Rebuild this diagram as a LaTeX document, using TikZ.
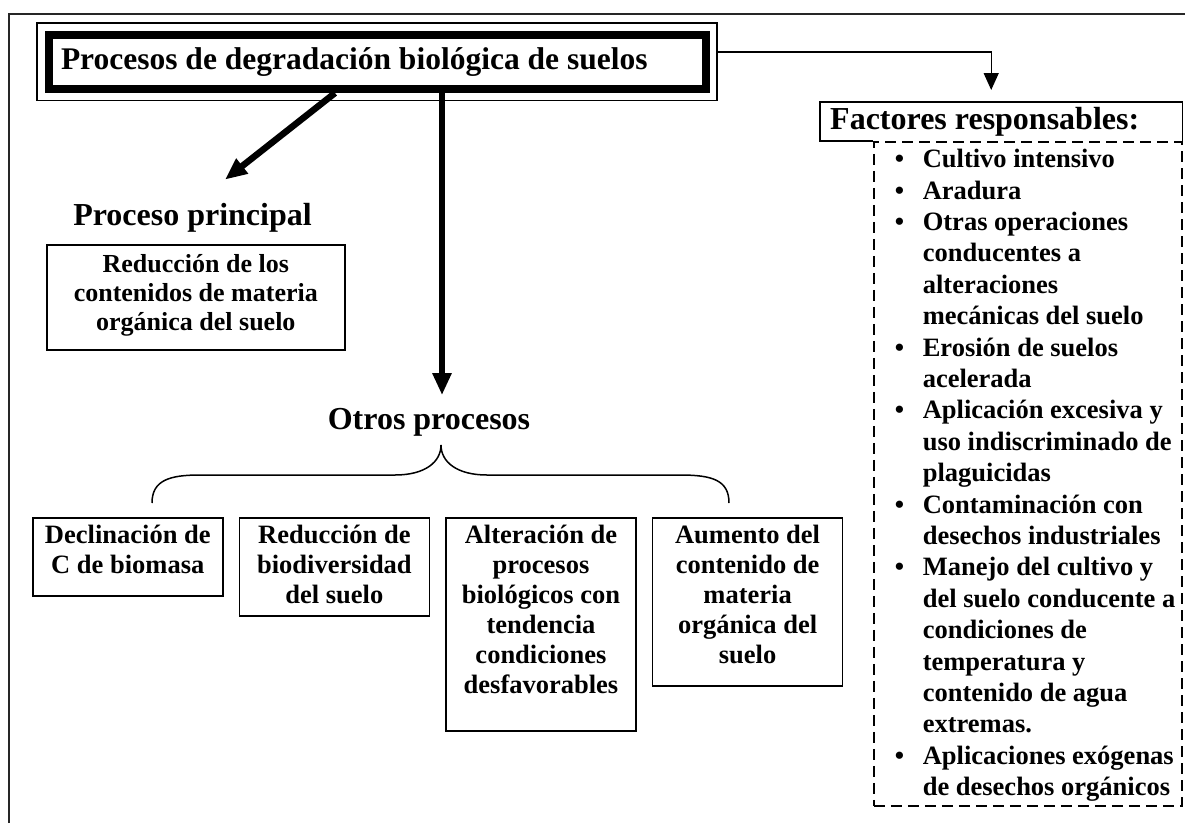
\documentclass[tikz,border=0pt]{standalone}
\usepackage{fontspec}
\setmainfont{Liberation Serif}
\usetikzlibrary{arrows.meta, positioning}

% caja de texto: ancho, alto, margen superior, texto
\newcommand{\caja}[4]{\parbox[t][#2][t]{#1}{\centering\vspace*{#3}\strut #4}}
\newcommand{\vineta}{\hspace*{21pt}\makebox[28pt][l]{\textbullet}}
\newcommand{\sangria}{\hspace*{49pt}}

\begin{document}
\begin{tikzpicture}[
    x=1pt, y=-1pt,
    marco/.style={line width=2pt, draw=black!85},
    titulo/.style={draw, line width=8pt, minimum height=54.5pt, inner xsep=12.5pt, inner ysep=0pt, font=\fontsize{31.5}{36}\selectfont\bfseries},
    etiqueta/.style={inner sep=0pt, anchor=base, font=\fontsize{32}{36}\selectfont\bfseries},
    caja/.style={draw, line width=1.6pt, inner sep=0pt, anchor=north west, font=\fontsize{26.5}{30}\selectfont\bfseries},
    lista/.style={draw, dash pattern=on 11pt off 6pt, line width=1.6pt, inner sep=0pt, anchor=north west, font=\fontsize{26.5}{31.4}\selectfont\bfseries},
    gruesa/.style={line width=6.5pt, -{Triangle[width=18pt,length=22pt]}},
    fina/.style={line width=1.4pt, -{Triangle[width=15pt,length=17pt]}},
    llave/.style={line width=1.5pt}
]
    \useasboundingbox (0,0) rectangle (1185,823);
    \draw[marco] (8.5,823) |- (1185,14);

    % titulo con doble marco
    \node[titulo] (titulo) at (377,61.75) {\makebox[632pt][l]{Procesos de degradaci\'on biol\'ogica de suelos}};
    \draw[line width=1.3pt] ([shift={(-7.5pt,7.5pt)}]titulo.north west) rectangle ([shift={(7.5pt,-7.5pt)}]titulo.south east);

    % proceso principal
    \node[etiqueta] (principal) at (192.5,225) {Proceso principal};
    \node[caja, font=\fontsize{26}{29}\selectfont\bfseries] (reduccion) at (46,244)
        {\caja{298pt}{105pt}{7.7pt}{Reducci\'on de los\\contenidos de materia\\org\'anica del suelo}};

    % otros procesos
    \node[etiqueta] (otros) at (429,429) {Otros procesos};
    \node[caja] (declina) at (32,517) {\caja{190pt}{78pt}{5pt}{Declinaci\'on de\\C de biomasa}};
    \node[caja, right=15pt of declina.north east, anchor=north west] (biodiv)
        {\caja{190pt}{98pt}{5pt}{Reducci\'on de\\biodiversidad\\del suelo}};
    \node[caja, right=15pt of biodiv.north east, anchor=north west] (altera)
        {\caja{190pt}{213pt}{5pt}{Alteraci\'on de\\procesos\\biol\'ogicos con\\tendencia\\condiciones\\desfavorables}};
    \node[caja, right=15pt of altera.north east, anchor=north west] (aumento)
        {\caja{190pt}{168pt}{5pt}{Aumento del\\contenido de\\materia\\org\'anica del\\suelo}};

    % factores responsables
    \node[anchor=north west, minimum height=39pt, inner xsep=10pt, inner ysep=0pt, font=\fontsize{32}{36}\selectfont\bfseries] (factores) at (820,102) {\makebox[342pt][l]{Factores responsables:}};
    \node[lista] (lista) at (873,141) {\parbox[t][664pt][t]{308pt}{\raggedright\vspace*{4pt}\strut
        \vineta Cultivo intensivo\\
        \vineta Aradura\\
        \vineta Otras operaciones\\
        \sangria conducentes a\\
        \sangria alteraciones\\
        \sangria mec\'anicas del suelo\\
        \vineta Erosi\'on de suelos\\
        \sangria acelerada\\
        \vineta Aplicaci\'on excesiva y\\
        \sangria uso indiscriminado de\\
        \sangria plaguicidas\\
        \vineta Contaminaci\'on con\\
        \sangria desechos industriales\\
        \vineta Manejo del cultivo y\\
        \sangria del suelo conducente a\\
        \sangria condiciones de\\
        \sangria temperatura y\\
        \sangria contenido de agua\\
        \sangria extremas.\\
        \vineta Aplicaciones ex\'ogenas\\
        \sangria de desechos org\'anicos}};
    \draw[line width=1.6pt] (lista.north west) -| (factores.north west) -| (factores.south east);

    % conectores
    \draw[gruesa] ([xshift=-42pt]titulo.south) -- ([shift={(32.5pt,23pt)}]principal.north);
    \draw[gruesa] ([xshift=65pt]titulo.south) -- ([shift={(13pt,12.5pt)}]otros.north);
    \draw[fina] ([shift={(7.5pt,9.75pt)}]titulo.east) -| ([shift={(-10pt,12pt)}]factores.north);

    % llave
    \coordinate (pico) at (441,445);
    \draw[llave] (152,503) .. controls (152,480) and (170,475) .. (200,475) -- (395,475)
        .. controls (425,475) and (441,462) .. (pico)
        .. controls (441,462) and (457,475) .. (487,475) -- (680,475)
        .. controls (712,475) and (729,480) .. (729,503);
\end{tikzpicture}
\end{document}
